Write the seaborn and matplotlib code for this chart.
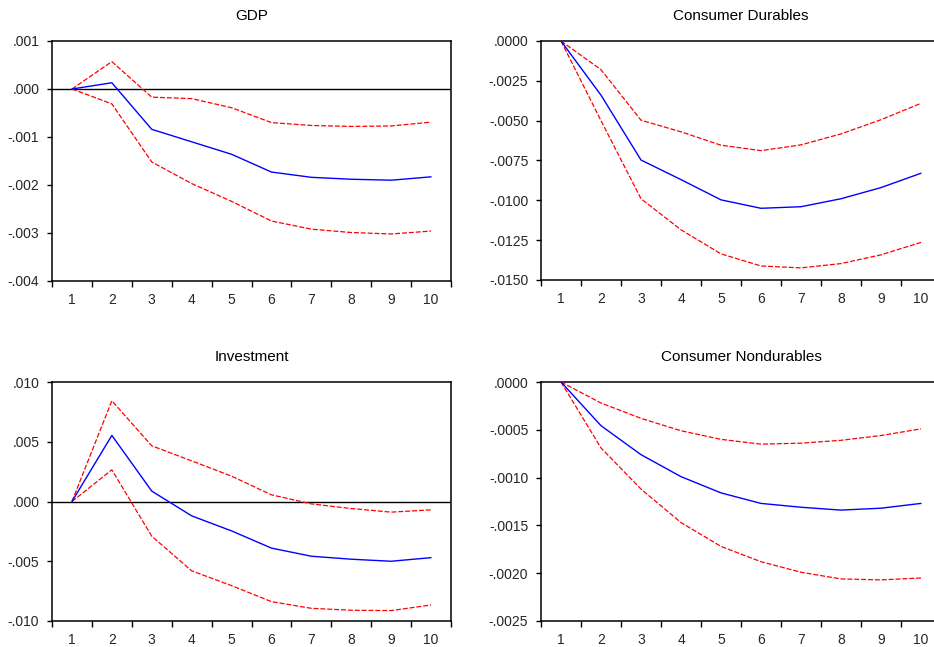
import matplotlib
matplotlib.use("Agg")
import matplotlib.pyplot as plt
from matplotlib.ticker import FixedLocator, FuncFormatter
import numpy as np
import pandas as pd
import seaborn as sns

# Impulse-response horizons
periods = list(range(1, 11))

# GDP response with +/- 2 S.E. bands
gdp_resp = [0.0, 0.00013, -0.00084, -0.00110, -0.00136, -0.00173, -0.00184, -0.00188, -0.00190, -0.00183]
gdp_upper = [0.0, 0.00057, -0.00017, -0.00020, -0.00039, -0.00070, -0.00076, -0.00078, -0.00077, -0.00069]
gdp_lower = [0.0, -0.00031, -0.00152, -0.00197, -0.00234, -0.00275, -0.00292, -0.00299, -0.00302, -0.00296]

# Consumer durables response
dur_resp = [0.0, -0.0034, -0.00747, -0.0087, -0.00997, -0.0105, -0.0104, -0.0099, -0.0092, -0.0083]
dur_upper = [0.0, -0.0018, -0.00497, -0.0057, -0.00654, -0.00688, -0.00652, -0.00583, -0.00494, -0.00391]
dur_lower = [0.0, -0.0050, -0.0099, -0.01185, -0.01336, -0.01412, -0.01424, -0.01397, -0.01342, -0.01264]

# Investment response
inv_resp = [0.0, 0.00553, 0.00087, -0.0012, -0.00246, -0.0039, -0.00458, -0.00483, -0.0050, -0.0047]
inv_upper = [0.0, 0.00843, 0.00466, 0.0034, 0.00212, 0.00056, -0.0002, -0.00059, -0.00089, -0.0007]
inv_lower = [0.0, 0.00265, -0.0029, -0.0058, -0.00704, -0.00838, -0.00894, -0.0091, -0.00913, -0.00866]

# Consumer nondurables response
nd_resp = [0.0, -0.000457, -0.00076, -0.00099, -0.00116, -0.00127, -0.00131, -0.00134, -0.00132, -0.00127]
nd_upper = [0.0, -0.00022, -0.00038, -0.00051, -0.00060, -0.00065, -0.00064, -0.00061, -0.00056, -0.00049]
nd_lower = [0.0, -0.00069, -0.00112, -0.00147, -0.00172, -0.00188, -0.00199, -0.00206, -0.00207, -0.00205]

titles = ["GDP", "Consumer Durables", "Investment", "Consumer Nondurables"]

sns.set_theme(style="white")
plt.rcParams["font.family"] = ["Liberation Sans", "DejaVu Sans"]

W, H = 934, 647
fig = plt.figure(figsize=(W / 100, H / 100), dpi=100)


def px_axes(left, right, top, bottom):
    return fig.add_axes([left / W, 1 - bottom / H, (right - left) / W, (bottom - top) / H])


panels = [
    dict(box=(52, 451, 41, 281), resp=gdp_resp, up=gdp_upper, lo=gdp_lower,
         ylim=(-0.004, 0.001), step=0.001, dec=3, zero=True),
    dict(box=(541, 941, 41, 280), resp=dur_resp, up=dur_upper, lo=dur_lower,
         ylim=(-0.015, 0.0), step=0.0025, dec=4, zero=False),
    dict(box=(52, 451, 382, 621), resp=inv_resp, up=inv_upper, lo=inv_lower,
         ylim=(-0.010, 0.010), step=0.005, dec=3, zero=True),
    dict(box=(541, 941, 382, 621), resp=nd_resp, up=nd_upper, lo=nd_lower,
         ylim=(-0.0025, 0.0), step=0.0005, dec=4, zero=False),
]


def make_fmt(dec):
    def f(v, pos):
        s = f"{v:.{dec}f}"
        if abs(v) < 1e-12:
            s = f"{0:.{dec}f}"
        return s.replace("0.", ".", 1)
    return f


for title, p in zip(titles, panels):
    ax = px_axes(*p["box"])
    df = pd.DataFrame({"period": periods, "resp": p["resp"],
                       "upper": p["up"], "lower": p["lo"]})
    if p["zero"]:
        ax.axhline(0, color="black", lw=1.0, zorder=1)
    sns.lineplot(data=df, x="period", y="upper", ax=ax, color="red",
                 lw=0.9, linestyle=(0, (4, 1.5)), zorder=3)
    sns.lineplot(data=df, x="period", y="lower", ax=ax, color="red",
                 lw=0.9, linestyle=(0, (4, 1.5)), zorder=3)
    sns.lineplot(data=df, x="period", y="resp", ax=ax, color="blue",
                 lw=1.0, zorder=4)

    ax.set_xlim(0.5, 10.5)
    ax.set_ylim(*p["ylim"])
    yt = np.round(np.arange(p["ylim"][0], p["ylim"][1] + p["step"] / 2, p["step"]), 6)
    ax.set_yticks(yt)
    ax.yaxis.set_major_formatter(FuncFormatter(make_fmt(p["dec"])))
    ax.set_xticks(periods)
    ax.set_xticklabels([str(i) for i in periods])
    ax.xaxis.set_minor_locator(FixedLocator(np.arange(0.5, 11, 1.0)))

    ax.tick_params(axis="y", which="major", direction="out", length=3.6, width=1,
                   color="black", labelsize=10, pad=5.5, left=True)
    ax.tick_params(axis="x", which="major", length=0, labelsize=10, pad=9, bottom=True)
    ax.tick_params(axis="x", which="minor", direction="out", length=4.3, width=1,
                   color="black", bottom=True)
    for s in ax.spines.values():
        s.set_color("black")
        s.set_linewidth(1.1)
        s.set_visible(True)
    ax.set_xlabel("")
    ax.set_ylabel("")
    ax.set_title(title, fontsize=11, pad=15, color="black")
    ax.set_facecolor("white")

fig.savefig("out.png", dpi=100, facecolor="white")
